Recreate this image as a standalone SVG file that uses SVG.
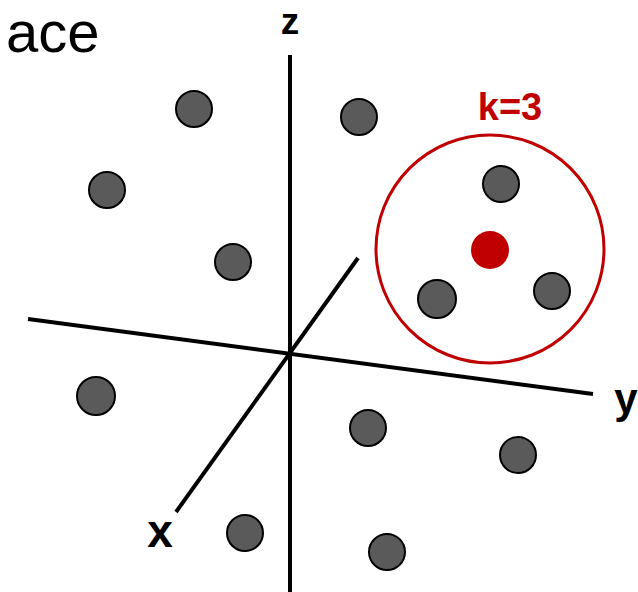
<svg xmlns="http://www.w3.org/2000/svg" width="638" height="592" viewBox="0 0 638 592">
<style>
.pt{fill:#5a5a5a;stroke:#000;stroke-width:2}
.ax{stroke:#000;stroke-width:4;fill:none}
.lbl{font-family:"Liberation Sans",Arial,sans-serif;font-weight:bold;fill:#000}
</style>
<rect width="638" height="592" fill="#fff"/>
<text x="6" y="52" font-family="'Liberation Sans',Arial,sans-serif" font-size="58" fill="#000">ace</text>
<g id="axes">
<line class="ax" x1="290" y1="55" x2="290" y2="592"/>
<line class="ax" x1="28" y1="319" x2="593" y2="394"/>
<line class="ax" x1="176" y1="512" x2="358" y2="258"/>
</g>
<g id="labels">
<text class="lbl" x="290" y="34" font-size="37" text-anchor="middle">z</text>
<text class="lbl" x="626" y="413" font-size="42" text-anchor="middle">y</text>
<text class="lbl" x="160" y="547" font-size="46" text-anchor="middle">x</text>
</g>
<g id="points">
<circle class="pt" cx="194" cy="109" r="18"/>
<circle class="pt" cx="359" cy="117" r="18"/>
<circle class="pt" cx="107" cy="190" r="18"/>
<circle class="pt" cx="233" cy="262" r="18"/>
<circle class="pt" cx="501" cy="184" r="18"/>
<circle class="pt" cx="437" cy="299" r="19"/>
<circle class="pt" cx="552" cy="291" r="18"/>
<circle class="pt" cx="96" cy="396" r="19"/>
<circle class="pt" cx="368" cy="428" r="18"/>
<circle class="pt" cx="518" cy="455" r="18"/>
<circle class="pt" cx="245" cy="533" r="18"/>
<circle class="pt" cx="387" cy="552" r="18"/>
</g>
<g id="neighborhood">
<circle cx="490" cy="249" r="114" fill="none" stroke="#c00000" stroke-width="3"/>
<circle cx="490" cy="250" r="19" fill="#c00000"/>
<text x="510" y="120" font-family="'Liberation Sans',Arial,sans-serif" font-weight="bold" font-size="38" fill="#c00000" text-anchor="middle">k=3</text>
</g>
</svg>
